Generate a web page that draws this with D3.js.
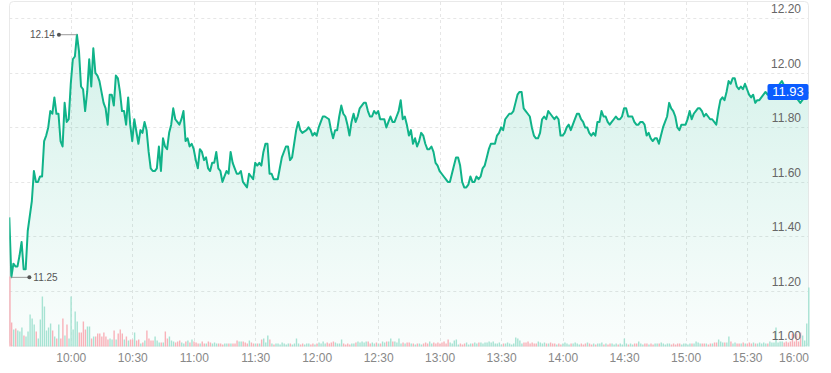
<!DOCTYPE html>
<html>
<head>
<meta charset="utf-8">
<script src="https://cdn.jsdelivr.net/npm/d3@7"></script>
<style>
  body { margin: 0; background: #fff; }
  text { font-family: "Liberation Sans", Arial, sans-serif; }
</style>
</head>
<body>
<script>

// [minutes after 09:30, price]
const pricePoints = [[0,11.47],[1,11.25],[2,11.30],[3,11.29],[4,11.29],[5,11.33],[6,11.38],[7,11.28],[8,11.28],[9,11.42],[11,11.53],[12,11.64],[13,11.60],[14,11.60],[15,11.62],[16,11.62],[17,11.75],[18,11.77],[19,11.80],[20,11.86],[21,11.85],[22,11.91],[23,11.85],[24,11.85],[25,11.75],[26,11.73],[27,11.89],[28,11.82],[29,11.83],[30,11.96],[31,12.05],[32,12.06],[33,12.14],[34,12.08],[35,11.95],[36,11.94],[37,11.86],[38,11.93],[39,12.05],[40,11.95],[41,12.09],[42,12.00],[43,11.99],[44,11.97],[46,11.89],[47,11.87],[48,11.81],[49,11.92],[50,11.92],[51,11.88],[52,11.99],[53,11.98],[54,11.93],[55,11.86],[56,11.86],[57,11.81],[58,11.91],[59,11.81],[60,11.75],[61,11.83],[63,11.74],[64,11.79],[65,11.78],[66,11.82],[67,11.79],[68,11.71],[69,11.65],[70,11.64],[71,11.64],[72,11.65],[73,11.73],[74,11.64],[75,11.76],[76,11.73],[77,11.72],[78,11.78],[79,11.81],[80,11.87],[81,11.83],[82,11.82],[83,11.81],[84,11.83],[85,11.86],[86,11.75],[87,11.76],[88,11.73],[89,11.74],[90,11.72],[91,11.68],[92,11.65],[93,11.72],[94,11.71],[95,11.68],[96,11.69],[97,11.65],[98,11.64],[99,11.67],[100,11.67],[101,11.71],[102,11.65],[103,11.64],[104,11.60],[105,11.62],[106,11.64],[107,11.63],[108,11.71],[109,11.67],[110,11.65],[111,11.63],[112,11.63],[113,11.64],[114,11.60],[115,11.59],[116,11.58],[117,11.63],[118,11.62],[119,11.61],[120,11.67],[121,11.66],[122,11.67],[123,11.66],[124,11.71],[125,11.74],[126,11.74],[127,11.63],[128,11.63],[129,11.61],[131,11.61],[132,11.65],[133,11.69],[135,11.73],[136,11.73],[137,11.68],[138,11.69],[139,11.74],[140,11.79],[141,11.82],[142,11.79],[143,11.78],[145,11.79],[146,11.80],[147,11.79],[148,11.77],[149,11.78],[150,11.77],[151,11.80],[152,11.82],[153,11.84],[154,11.84],[156,11.83],[157,11.79],[158,11.76],[159,11.79],[160,11.79],[161,11.84],[162,11.88],[163,11.85],[164,11.84],[165,11.81],[166,11.77],[167,11.82],[168,11.85],[169,11.82],[170,11.84],[171,11.87],[172,11.88],[173,11.89],[174,11.89],[175,11.86],[176,11.84],[177,11.84],[178,11.86],[179,11.85],[180,11.86],[181,11.83],[182,11.83],[183,11.83],[184,11.80],[185,11.82],[186,11.84],[187,11.82],[188,11.82],[189,11.84],[190,11.86],[191,11.90],[192,11.83],[193,11.84],[194,11.81],[195,11.77],[196,11.79],[197,11.74],[198,11.76],[199,11.73],[200,11.75],[201,11.78],[202,11.77],[203,11.74],[204,11.72],[205,11.72],[206,11.73],[207,11.71],[208,11.67],[209,11.66],[210,11.64],[211,11.63],[212,11.62],[213,11.61],[214,11.60],[215,11.60],[216,11.63],[217,11.66],[218,11.69],[219,11.69],[220,11.66],[221,11.60],[222,11.58],[223,11.58],[224,11.59],[225,11.62],[226,11.60],[227,11.60],[228,11.62],[229,11.61],[230,11.62],[231,11.65],[232,11.66],[233,11.69],[234,11.72],[235,11.74],[237,11.74],[238,11.77],[239,11.78],[240,11.80],[241,11.79],[242,11.83],[243,11.84],[244,11.85],[245,11.85],[246,11.86],[247,11.89],[248,11.92],[249,11.93],[250,11.93],[251,11.87],[252,11.86],[253,11.85],[254,11.84],[255,11.80],[256,11.77],[257,11.76],[258,11.76],[259,11.78],[260,11.83],[261,11.84],[262,11.83],[263,11.86],[264,11.85],[265,11.84],[266,11.83],[267,11.84],[268,11.83],[269,11.77],[270,11.77],[271,11.78],[272,11.80],[273,11.81],[274,11.79],[275,11.81],[276,11.83],[277,11.85],[278,11.85],[279,11.83],[280,11.82],[281,11.80],[282,11.80],[283,11.78],[284,11.77],[285,11.78],[286,11.77],[287,11.82],[288,11.82],[289,11.86],[290,11.84],[291,11.84],[292,11.82],[293,11.81],[294,11.82],[295,11.83],[296,11.84],[297,11.83],[298,11.83],[299,11.84],[300,11.87],[301,11.87],[302,11.84],[304,11.84],[305,11.82],[306,11.81],[307,11.81],[308,11.82],[309,11.82],[310,11.81],[311,11.77],[312,11.78],[313,11.76],[314,11.75],[315,11.76],[316,11.76],[317,11.74],[318,11.77],[319,11.80],[320,11.82],[321,11.84],[322,11.89],[323,11.87],[324,11.86],[325,11.84],[326,11.80],[327,11.79],[328,11.81],[329,11.81],[330,11.81],[331,11.83],[332,11.86],[333,11.83],[334,11.85],[335,11.86],[336,11.87],[337,11.87],[338,11.86],[339,11.84],[340,11.85],[341,11.84],[342,11.83],[343,11.83],[345,11.81],[346,11.86],[347,11.90],[348,11.91],[349,11.90],[350,11.93],[351,11.97],[352,11.96],[353,11.98],[354,11.98],[355,11.95],[356,11.94],[357,11.95],[358,11.94],[359,11.96],[360,11.94],[361,11.92],[362,11.91],[363,11.92],[364,11.89],[365,11.90],[366,11.90],[367,11.91],[369,11.93],[370,11.92],[371,11.93],[373,11.94],[374,11.95],[375,11.95],[377,11.97],[379,11.94],[381,11.93],[383,11.92],[385,11.90],[386,11.89],[388,11.91],[390,11.93]];

// one bar per minute, 09:30 .. 16:00 (thousand shares)
const volume = [
  70,24,17,18,16,15,19,11,10,15,32,28,22,15,8,27,50,40,16,19,23,16,10,8,22,8,28,11,22,8,
  50,17,35,25,14,14,25,17,20,20,8,10,10,13,13,10,14,10,7,8,7,16,7,13,17,13,7,10,6,7,
  7,14,6,7,3,4,6,16,8,6,6,10,6,4,4,4,15,8,10,6,5,4,5,6,4,3,5,6,4,7,
  5,4,3,3,5,3,3,5,4,3,4,3,3,3,2,3,3,3,3,3,3,6,5,5,5,4,3,6,4,3,
  3,3,3,7,8,4,11,7,
  3,2,3,3,2,4,3,2,3,3, 2,3,8,3,2,3,2,3,3,2, 3,2,3,4,3,5,3,4,3,4, 5,4,3,3,7,3,2,3,2,3,
  3,4,5,4,5,4,5,5,3,4, 3,4,3,3,5,4,5,5,8,5, 5,4,8,3,4,3,4,4,3,3, 2,3,3,2,3,4,3,5,3,4,
  3,4,3,4,5,3,7,4,3,6, 7,2,3,2,3,4,2,3,3,4, 3,4,4,3,4,4,5,4,5,3, 3,4,2,3,3,4,3,2,3,9,
  8,6,3,4,4,5,3,4,3,3, 5,4,3,4,3,3,4,3,3,2, 3,2,3,4,3,2,3,3,4,3, 2,3,2,3,4,3,2,3,2,3,
  3,4,2,3,2,3,3,2,3,2, 3,2,8,3,2,3,2,3,3,5, 3,2,3,3,2,3,2,3,3,3, 4,3,2,3,3,2,3,2,3,3,
  2,3,3,2,3,3,3,5,4,3, 3,3,3,2,3,3,4,4,7,5, 4,4,4,10,5,3,4,3,3,3, 4,3,3,4,3,4,3,3,4,3,
  4,3,3,5,4,4, 19, 4,5,5,4,5,4,5, 13,5,13,5,14,11,6,23,59
];

const priceTicks = [11.00, 11.20, 11.40, 11.60, 11.80, 12.00, 12.20];
const timeTicks = ["10:00", "10:30", "11:00", "11:30", "12:00", "12:30", "13:00",
  "13:30", "14:00", "14:30", "15:00", "15:30", "16:00"];
const sessionStart = "09:30";
const sessionEnd = "16:00";
const lastPrice = 11.93;

const width = 831, height = 373;
const plotLeft = 9.3, plotRight = 808.5, plotTop = 2, plotBottom = 345.5;
const green = "#10b389";

const parseTime = d3.timeParse("%H:%M");
const open = parseTime(sessionStart);
const atMinute = m => d3.timeMinute.offset(open, m);

const x = d3.scaleTime()
    .domain([open, parseTime(sessionEnd)])
    .range([plotLeft, plotRight]);
const y = d3.scaleLinear().domain([11, 12.26]).range([plotBottom, plotTop]);
const volH = d3.scaleLinear().domain([0, d3.max(volume)]).range([0, 70]);

// price at any minute, used only to colour the volume bars
const priceAt = d3.scaleLinear()
    .domain(pricePoints.map(d => d[0]))
    .range(pricePoints.map(d => d[1]));

const svg = d3.select("body").append("svg")
    .attr("width", width)
    .attr("height", height);

const defs = svg.append("defs");
const grad = defs.append("linearGradient")
    .attr("id", "fill")
    .attr("gradientUnits", "userSpaceOnUse")
    .attr("x1", 0).attr("x2", 0)
    .attr("y1", y(12.14)).attr("y2", plotBottom);
grad.append("stop").attr("offset", 0).attr("stop-color", green).attr("stop-opacity", 0.18);
grad.append("stop").attr("offset", 1).attr("stop-color", green).attr("stop-opacity", 0.02);

defs.append("clipPath").attr("id", "plot")
  .append("rect")
    .attr("x", plotLeft).attr("y", plotTop)
    .attr("width", plotRight - plotLeft).attr("height", plotBottom - plotTop + 1);

// frame
svg.append("rect")
    .attr("x", 9.5).attr("y", 1.5)
    .attr("width", plotRight - 9.5).attr("height", plotBottom - 1)
    .attr("rx", 4)
    .attr("fill", "none")
    .attr("stroke", "#e9e9e9");

// grid
let grid = svg.append("g")
    .attr("stroke", "#e6e6e6")
    .attr("stroke-dasharray", "3,3");
grid.selectAll(".h")
    .data(priceTicks.filter(d => d > 11))
    .enter().append("line")
    .attr("x1", plotLeft).attr("x2", plotRight)
    .attr("y1", d => Math.round(y(d)) + 0.5).attr("y2", d => Math.round(y(d)) + 0.5);
grid.selectAll(".v")
    .data(timeTicks.slice(0, -1))
    .enter().append("line")
    .attr("x1", d => Math.round(x(parseTime(d))) + 0.5).attr("x2", d => Math.round(x(parseTime(d))) + 0.5)
    .attr("y1", plotTop).attr("y2", plotBottom);

let plot = svg.append("g").attr("clip-path", "url(#plot)");

// area under the price
let area = d3.area()
    .x(d => x(atMinute(d[0])))
    .y0(plotBottom)
    .y1(d => y(d[1]));
plot.append("path")
    .datum(pricePoints)
    .attr("d", area)
    .attr("fill", "url(#fill)");

// volume
svg.append("g").selectAll("rect")
    .data(volume)
    .enter().append("rect")
    .attr("x", (d, i) => Math.max(plotLeft, x(atMinute(i)) - 0.4))
    .attr("width", 1.4)
    .attr("y", d => plotBottom + 1 - volH(d))
    .attr("height", d => volH(d))
    .attr("fill", (d, i) => {
        let up = i > 0 ? priceAt(i) >= priceAt(i - 1) : priceAt(1) >= priceAt(0);
        return up ? "#a7e3d3" : "#f8b2b9";
    });

// price line
let line = d3.line()
    .x(d => x(atMinute(d[0])))
    .y(d => y(d[1]));
plot.append("path")
    .datum(pricePoints)
    .attr("d", line)
    .attr("fill", "none")
    .attr("stroke", green)
    .attr("stroke-width", 2)
    .attr("stroke-linejoin", "round");

// high / low markers
let hi = pricePoints.reduce((a, b) => b[1] > a[1] ? b : a);
let lo = pricePoints.reduce((a, b) => b[1] < a[1] ? b : a);
[[hi, -1], [lo, 1]].forEach(([p, dir]) => {
    let px = x(atMinute(p[0])), py = y(p[1]);
    let g = svg.append("g");
    g.append("line")
        .attr("x1", px).attr("x2", px + dir * 18)
        .attr("y1", py).attr("y2", py)
        .attr("stroke", "#9a9a9a");
    g.append("circle")
        .attr("cx", px + dir * 18).attr("cy", py).attr("r", 2)
        .attr("fill", "#555");
    g.append("text")
        .attr("x", px + dir * 22).attr("y", py + 3.5)
        .attr("text-anchor", dir < 0 ? "end" : "start")
        .attr("font-size", 10)
        .attr("fill", "#555")
        .text(p[1].toFixed(2));
});

// y axis, labels sit above their grid lines inside the plot
let yAxis = svg.append("g")
    .attr("transform", "translate(801,0)")
    .call(d3.axisLeft(y).tickValues(priceTicks).tickFormat(d3.format(".2f")).tickSize(0).tickPadding(0));
yAxis.select(".domain").remove();
yAxis.selectAll("text")
    .attr("dy", "-0.48em")
    .attr("font-size", 12)
    .attr("font-family", "Liberation Sans, Arial, sans-serif")
    .attr("fill", "#666");

// x axis
let xAxis = svg.append("g")
    .attr("transform", "translate(0," + (plotBottom + 0.5) + ")")
    .call(d3.axisBottom(x).tickValues(timeTicks.map(parseTime))
        .tickFormat(d3.timeFormat("%H:%M")).tickSize(0).tickPadding(7));
xAxis.select(".domain").remove();
xAxis.selectAll("text")
    .attr("font-size", 12)
    .attr("font-family", "Liberation Sans, Arial, sans-serif")
    .attr("fill", "#888")
    .attr("text-anchor", (d, i) => i === timeTicks.length - 1 ? "end" : "middle");

// last price tag
let tag = svg.append("g").attr("transform", "translate(" + (plotRight - 41) + "," + (y(lastPrice) - 8) + ")");
tag.append("rect")
    .attr("width", 41).attr("height", 16).attr("rx", 2)
    .attr("fill", "#0b5cff");
tag.append("text")
    .attr("x", 20.5).attr("y", 12.5)
    .attr("text-anchor", "middle")
    .attr("font-size", 13)
    .attr("fill", "#fff")
    .text(lastPrice.toFixed(2));

</script>
</body>
</html>
